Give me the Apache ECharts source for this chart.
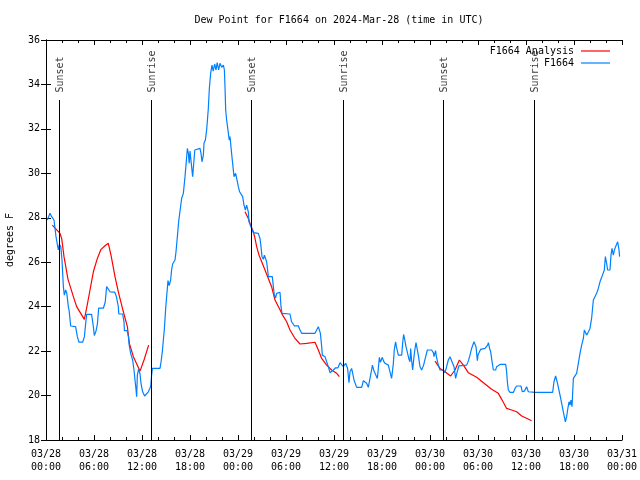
<!DOCTYPE html>
<html>
<head>
<meta charset="utf-8">
<script src="https://cdn.jsdelivr.net/npm/echarts@6/dist/echarts.min.js"></script>
<style>
html,body{margin:0;padding:0;background:#fff;}
#chart{width:640px;height:480px;}
</style>
</head>
<body>
<div id="chart"></div>
<script>
// hours since 2024-03-28 00:00 UTC
var blueHours = [0.17,0.5,0.71,1.0,1.25,1.54,1.67,1.85,2.0,2.17,2.29,2.46,2.6,2.79,2.9,3.08,3.7,3.92,4.125,4.58,4.8,4.96,5.08,5.7,5.92,6.04,6.25,6.42,6.58,7.17,7.4,7.58,7.8,8.0,8.6,8.8,9.04,9.1,9.58,9.75,9.8,10.15,10.3,10.4,10.58,10.83,11.0,11.125,11.25,11.33,11.42,11.58,11.75,11.875,12.08,12.33,12.5,12.79,13.0,13.1,13.2,13.3,14.25,14.375,14.54,14.67,14.8,14.96,15.08,15.25,15.4,15.58,15.7,15.83,16.04,16.125,16.25,16.42,16.58,16.75,16.96,17.17,17.375,17.5,17.67,17.8,17.9,18.0,18.2,18.33,18.5,18.6,18.83,19.25,19.375,19.5,19.67,19.75,19.92,20.08,20.29,20.42,20.58,20.75,20.9,21.08,21.25,21.4,21.58,21.75,21.96,22.17,22.3,22.375,22.46,22.58,22.8,22.9,23.0,23.08,23.2,23.33,23.4,23.5,23.7,23.83,24.04,24.2,24.33,24.45,24.58,24.75,24.92,25.08,25.2,25.29,25.375,25.5,25.7,25.92,26.54,26.75,26.875,27.0,27.17,27.3,27.5,27.58,27.75,27.8,28.29,28.42,28.54,28.7,28.83,29.25,29.375,29.5,30.5,30.7,31.04,31.54,31.75,31.96,33.625,33.83,34.04,34.25,34.3,34.46,34.54,34.875,35.08,35.29,35.5,35.7,35.92,36.2,36.5,36.75,36.96,37.17,37.46,37.58,37.7,37.875,38.0,38.2,38.3,38.5,38.83,39.46,39.67,39.9,40.08,40.29,40.5,40.7,40.8,41.0,41.2,41.42,41.54,41.67,41.8,42.04,42.2,42.375,42.79,43.0,43.2,43.42,43.54,43.7,43.8,44.04,44.2,44.46,44.58,44.7,44.85,45.0,45.2,45.375,45.5,45.58,45.7,45.83,46.0,46.1,46.25,46.45,46.54,46.75,46.96,47.2,47.375,47.67,48.2,48.42,48.5,48.7,48.8,49.04,49.25,49.67,49.875,50.08,50.29,50.5,50.75,51.0,51.2,51.4,51.625,51.8,52.58,52.79,53.0,53.2,53.5,53.6,53.75,53.92,54.0,54.125,54.33,54.875,55.08,55.2,55.3,55.45,55.58,55.7,55.79,55.92,56.2,56.33,56.75,57.46,57.58,57.67,57.79,58.0,58.42,58.625,58.83,59.375,59.54,59.8,60.08,60.29,60.5,61.125,63.33,63.5,63.7,63.92,64.17,64.33,64.58,64.75,64.92,65.08,65.2,65.375,65.5,65.625,65.75,65.92,66.1,66.33,66.54,66.75,66.96,67.17,67.29,67.4,67.58,67.8,68.0,68.2,68.42,68.625,68.83,69.04,69.25,69.46,69.65,69.79,69.92,70.08,70.2,70.5,70.625,70.75,70.92,71.05,71.2,71.33,71.46,71.625,71.7];
var blueValues = [27.9,28.2,28.05,27.9,27.15,26.55,26.8,26.7,26.1,24.9,24.52,24.75,24.6,24.0,23.8,23.13,23.1,22.65,22.4,22.4,22.65,23.25,23.65,23.65,23.1,22.7,22.9,23.2,23.93,23.93,24.2,24.9,24.85,24.67,24.65,24.45,24.0,23.67,23.67,23.32,22.92,22.92,22.65,22.27,21.9,21.6,21.15,20.7,20.28,19.95,20.92,21.2,20.97,20.55,20.17,19.98,20.0,20.17,20.33,20.45,20.92,21.22,21.22,21.5,21.98,22.5,23.02,23.93,24.45,25.17,24.95,25.2,25.65,25.92,25.92,26.1,26.47,27.15,27.82,28.3,28.88,29.1,29.85,30.37,31.12,30.9,30.45,31.0,30.3,29.85,30.6,31.05,31.12,31.12,30.9,30.52,30.82,31.35,31.5,31.95,32.92,33.83,34.5,34.87,34.6,34.92,34.65,34.98,34.65,34.95,34.77,34.87,34.65,33.9,32.85,32.4,31.8,31.5,31.65,31.35,30.9,30.45,30.37,29.85,30.0,29.78,29.4,29.17,29.1,29.2,28.95,28.57,28.35,28.57,28.65,28.27,27.82,27.75,27.52,27.33,27.3,27.07,26.7,26.25,26.13,26.32,26.37,26.02,25.5,25.35,25.35,24.9,24.52,24.4,24.6,24.65,24.0,23.7,23.67,23.32,23.14,23.14,22.95,22.8,22.8,22.87,23.1,23.1,22.8,22.2,21.82,21.75,21.52,21.3,21.03,20.95,21.15,21.25,21.25,21.48,21.52,21.3,21.45,21.52,21.22,20.58,21.07,21.22,21.07,20.7,20.37,20.37,20.67,20.67,20.55,20.37,20.77,21.15,21.37,21.1,21.07,20.77,21.22,21.72,21.5,21.72,21.55,21.45,21.37,21.07,20.77,21.45,22.08,22.42,22.2,21.82,21.77,21.82,22.35,22.75,22.5,22.2,22.27,21.63,21.52,22.12,21.6,21.15,21.75,22.05,22.38,22.38,21.82,21.3,21.15,21.37,21.63,22.05,22.05,21.93,21.75,22.02,21.75,21.37,21.15,21.15,21.03,21.3,21.6,21.75,21.72,21.3,20.77,21.07,21.34,21.37,21.37,21.55,21.82,22.12,22.42,22.5,22.2,21.57,21.82,21.9,22.08,22.12,22.12,22.27,22.38,22.12,21.98,21.67,21.45,21.15,21.15,21.3,21.4,21.4,21.07,20.62,20.25,20.14,20.14,20.32,20.43,20.43,20.17,20.2,20.4,20.17,20.13,20.14,20.14,20.62,20.88,20.58,20.55,19.88,19.42,19.12,18.82,19.05,19.35,19.72,19.57,19.8,19.5,20.77,20.77,21.0,21.45,21.9,22.27,22.57,22.95,23.02,22.72,22.87,23.02,23.47,24.3,24.38,24.6,24.82,25.12,25.32,25.32,25.65,26.25,25.95,25.65,25.65,26.32,26.62,26.32,26.55,26.7,26.77,26.92,26.55,26.25];

var anaHours = [0.79,1.75,1.96,2.25,2.75,3.42,3.83,4.79,5.08,5.5,5.92,6.42,6.875,7.375,7.79,8.125,8.625,9.04,9.67,10.17,10.42,10.92,11.75,12.25,12.83,18.0,24.875,25.29,25.58,25.92,26.125,26.33,26.625,26.96,27.375,27.79,28.2,28.625,29.17,29.58,30.08,30.5,31.125,31.75,32.58,33.625,33.83,34.04,34.46,35.08,35.7,36.33,36.67,42.0,48.625,49.25,49.875,50.58,51.125,51.67,52.17,52.79,53.83,54.875,55.7,56.54,56.96,57.58,58.2,58.83,59.46,60.08,60.7];
var anaValues = [27.67,27.3,27.07,26.25,25.23,24.45,24.0,23.43,23.93,24.75,25.57,26.17,26.58,26.74,26.85,26.32,25.35,24.67,23.77,23.1,22.35,21.75,21.1,21.6,22.27,null,28.27,27.97,27.67,27.37,27.07,26.7,26.32,26.02,25.65,25.27,24.9,24.3,23.92,23.62,23.32,22.95,22.57,22.32,22.35,22.4,22.35,22.05,21.67,21.37,21.15,21.0,20.85,null,21.55,21.22,21.07,20.88,21.15,21.6,21.37,21.03,20.82,20.52,20.28,20.1,19.83,19.42,19.35,19.27,19.08,18.98,18.87];

var eventHours = [1.67,13.17,25.62,37.17,49.67,61.04];
var eventNames = ['Sunset','Sunrise','Sunset','Sunrise','Sunset','Sunrise'];
var eventTop = 33.3;

var xTickLabels = ['03/28\n00:00','03/28\n06:00','03/28\n12:00','03/28\n18:00','03/29\n00:00','03/29\n06:00','03/29\n12:00','03/29\n18:00','03/30\n00:00','03/30\n06:00','03/30\n12:00','03/30\n18:00','03/31\n00:00'];
var yTicks = [18,20,22,24,26,28,30,32,34,36];

var FONT = 'DejaVu Sans Mono';
function pairs(h, v) { return h.map(function (x, i) { return [x, v[i] === null ? null : v[i]]; }); }

var chart = echarts.init(document.getElementById('chart'), null, {renderer: 'canvas'});
var axisCommon = {
  type: 'value', min: 0, max: 72, interval: 6,
  axisLine: {show: true, lineStyle: {color: '#000', width: 1}},
  axisTick: {show: true, inside: true, length: 5, lineStyle: {color: '#000'}},
  minorTick: {show: true, splitNumber: 3, length: 3, lineStyle: {color: '#000'}},
  splitLine: {show: false}, minorSplitLine: {show: false}
};
var legendCommon = {right: 30, orient: 'vertical', align: 'right', itemWidth: 29, itemHeight: 1.2, icon: 'rect', padding: 0,
  textStyle: {fontFamily: FONT, fontSize: 10, color: '#000', padding: [0, 2, 0, 0]}};
var option = {
  animation: false,
  backgroundColor: '#fff',
  title: {
    text: 'Dew Point for F1664 on 2024-Mar-28 (time in UTC)',
    left: 334, textAlign: 'center', top: 10,
    textStyle: {fontFamily: FONT, fontSize: 10, fontWeight: 'normal', color: '#000'}
  },
  grid: {left: 46, right: 18, top: 40, bottom: 40, containLabel: false, outerBoundsMode: 'none'},
  legend: [
    Object.assign({}, legendCommon, {data: ['F1664 Analysis'], top: 46}),
    Object.assign({}, legendCommon, {data: ['F1664'], top: 58})
  ],
  xAxis: [
    Object.assign({}, axisCommon, {position: 'bottom',
      axisLabel: {show: true, margin: 8, fontFamily: FONT, fontSize: 10, lineHeight: 13, color: '#000',
        formatter: function (v) { return xTickLabels[Math.round(v / 6)]; }}}),
    Object.assign({}, axisCommon, {position: 'top', axisLabel: {show: false}})
  ],
  yAxis: [
    {type: 'value', min: 18, max: 36, interval: 2, position: 'left',
     name: 'degrees F', nameLocation: 'middle', nameGap: 31, nameRotate: 90,
     nameTextStyle: {fontFamily: FONT, fontSize: 10, color: '#000'},
     axisLine: {show: true, lineStyle: {color: '#000'}},
     axisTick: {show: true, inside: true, length: 5, lineStyle: {color: '#000'}},
     axisLabel: {margin: 6, fontFamily: FONT, fontSize: 10, color: '#000',
       formatter: function (v) { return yTicks.indexOf(v) >= 0 ? String(v) : ''; }},
     splitLine: {show: false}},
    {type: 'value', min: 18, max: 36, interval: 2, position: 'right',
     axisLine: {show: true, lineStyle: {color: '#000'}},
     axisTick: {show: true, inside: true, length: 5, lineStyle: {color: '#000'}},
     axisLabel: {show: false}, splitLine: {show: false}}
  ],
  series: [
    {
      name: 'events', type: 'line', data: [], silent: true,
      markLine: {
        silent: true, symbol: 'none', animation: false,
        lineStyle: {color: '#000', width: 1, type: 'solid'},
        label: {show: false},
        data: eventHours.map(function (h) { return [{coord: [h, 18]}, {coord: [h, eventTop]}]; })
      }
    },
    {
      name: 'eventLabels', type: 'scatter', silent: true, symbolSize: 1,
      itemStyle: {color: 'rgba(0,0,0,0)'},
      data: eventHours.map(function (h, i) { return {value: [h, eventTop], name: eventNames[i]}; }),
      label: {show: true, formatter: function (p) { return p.name; }, position: [2, -7], rotate: 90,
        align: 'left', verticalAlign: 'middle', fontFamily: FONT, fontSize: 10, color: '#000'},
      labelLayout: {hideOverlap: false}
    },
    {
      name: 'F1664 Analysis', type: 'line', data: pairs(anaHours, anaValues), showSymbol: false, symbol: 'none',
      connectNulls: false, lineStyle: {color: '#ff0000', width: 1.2}, itemStyle: {color: '#ff0000'}
    },
    {
      name: 'F1664', type: 'line', data: pairs(blueHours, blueValues), showSymbol: false, symbol: 'none',
      lineStyle: {color: '#0080ff', width: 1.2}, itemStyle: {color: '#0080ff'}
    }
  ]
};
chart.setOption(option);
</script>
</body>
</html>
